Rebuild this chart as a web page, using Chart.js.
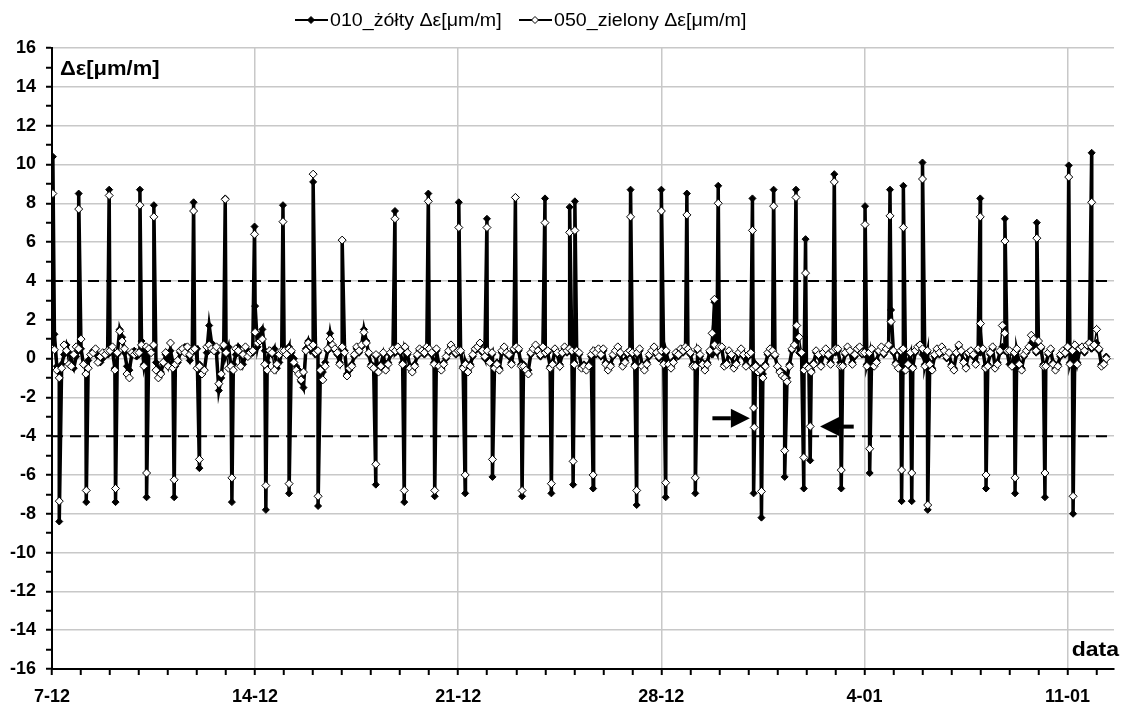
<!DOCTYPE html>
<html><head><meta charset="utf-8">
<script src="https://cdn.jsdelivr.net/npm/chart.js@4.4.0/dist/chart.umd.min.js"></script>
<style>html,body{margin:0;padding:0;background:#fff;}canvas{display:block;}</style>
</head><body>
<canvas id="c" width="1125" height="707"></canvas>
<script>
// ---------- DATA ----------
const seriesNames = ['010_żółty Δε[μm/m]', '050_zielony Δε[μm/m]'];
const sampleStepDays = 1 / 12;   // regular readings every 2 h, day 0 = 7-12
// regular (baseline) readings, one row per day
const zoltyBase = [
 0.9, 1.25, -0.4, -0.6, -0.3, 0.2, 0.7, 0.3, -0.2, -0.5, 0.1, 0.4,
 0.5, -0.3, -0.4, -0.1, 0.2, 0.4, 0.3, 0.1, -0.2, 0.0, 0.3, 0.2,
 0.3, 0.4, -0.5, 0.2, 1.5, 1.1, 0.3, -0.4, -0.6, 0.2, 0.4, 0.1,
 0.2, 0.9, -0.3, 0.5, 0.3, 0.4, 0.6, -0.2, -0.5, -0.7, -0.3, 0.2,
 -0.3, 0.4, -0.2, -0.4, -0.2, 0.3, 0.5, 0.6, 0.2, -0.1, 0.3, 0.4,
 0.5, -0.3, -0.5, -0.6, 0.3, 1.7, 0.8, 0.4, 0.3, -1.65, -1.0, 0.5,
 0.2, 0.6, -0.4, -0.3, 0.2, 0.6, 0.3, -0.3, 0.1, 0.4, 0.2, 0.3,
 2.7, 0.6, 1.2, 1.5, 0.4, -0.2, 0.4, 0.2, 0.5, -0.5, -0.2, 0.3,
 0.5, 0.3, 0.6, 0.3, 0.0, -0.4, -0.6, -1.2, -1.5, 0.5, 0.9, 0.4,
 0.6, 0.2, 0.3, -0.5, -0.7, -0.2, 0.4, 1.3, 0.6, 0.4, 0.2, -0.2,
 0.5, 0.4, -0.8, -0.6, -0.3, 0.1, 0.5, 0.3, 0.6, 1.5, 0.9, 0.2,
 -0.3, -0.4, 0.1, -0.6, -0.3, 0.2, -0.5, -0.2, 0.2, 0.4, 0.3, 0.5,
 0.3, -0.2, 0.5, 0.2, -0.4, -0.6, -0.3, 0.1, 0.4, 0.3, 0.2, 0.5,
 0.4, 0.2, -0.2, 0.4, -0.3, -0.5, -0.2, 0.0, 0.3, 0.6, 0.4, 0.2,
 0.3, 0.3, -0.4, -0.2, -0.6, -0.3, 0.1, 0.4, 0.5, 0.7, 0.3, 0.0,
 0.3, -0.1, 0.2, -0.4, -0.2, -0.5, 0.3, 0.5, 0.2, 0.1, -0.2, 0.4,
 0.5, 0.4, -0.3, -0.3, -0.5, -0.6, 0.2, 0.4, 0.6, 0.3, 0.1, 0.5,
 0.2, 0.3, -0.4, -0.2, 0.4, 0.2, -0.3, 0.2, 0.5, 0.3, 0.4, 0.3,
 -0.2, 0.3, 0.2, -0.4, -0.3, -0.5, -0.3, 0.1, 0.3, 0.2, 0.4, 0.1,
 0.4, -0.2, -0.5, -0.3, 0.1, 0.3, 0.5, 0.2, -0.3, -0.1, 0.2, 0.3,
 0.2, -0.3, 0.2, 0.4, -0.3, -0.5, -0.2, 0.1, 0.3, 0.5, 0.2, 0.0,
 0.3, -0.2, 0.3, -0.2, -0.4, -0.1, 0.2, 0.1, 0.4, 0.3, 0.5, 0.4,
 0.2, -0.3, -0.3, 0.4, 0.1, -0.2, -0.5, -0.2, 0.3, 0.2, 0.6, 0.3,
 0.5, 0.5, -0.3, -0.2, 0.3, 0.1, -0.4, -0.2, 0.2, 0.4, 0.1, -0.3,
 0.1, 0.2, -0.4, -0.3, -0.6, -0.5, -0.8, -0.3, 0.2, 0.4, 0.3, 0.1,
 -0.4, -0.6, -0.7, -0.8, -1.0, -0.3, 0.4, 0.6, 0.9, 0.3, 0.2, -0.5,
 -0.3, -0.4, -0.6, -0.2, 0.3, 0.1, -0.3, 0.2, 0.4, 0.1, -0.2, 0.3,
 0.3, 0.4, -0.2, -0.3, 0.2, 0.5, 0.3, -0.2, 0.1, 0.4, 0.5, 0.2,
 0.2, -0.3, 0.2, 0.4, -0.3, -0.1, 0.3, 0.5, 0.2, 0.4, 0.6, 2.5,
 0.3, -0.2, -0.4, 0.3, 0.4, -0.5, -0.2, 0.2, -0.4, 0.3, 0.5, 0.6,
 0.2, -0.3, 0.3, -0.2, -0.5, 0.1, 0.4, 0.2, 0.5, 0.3, 0.0, 0.2,
 -0.3, -0.5, 0.2, 0.6, 0.3, -0.1, -0.4, 0.2, 0.3, 0.1, -0.2, 0.4,
 0.3, 0.4, -0.4, -0.3, 0.2, 0.5, -0.4, -0.2, 0.3, 0.6, 0.4, 0.3,
 -0.3, -0.3, 0.2, 0.4, -0.2, -0.5, 0.1, 0.3, 0.5, 0.8, 0.6, 0.3,
 0.4, 0.5, -0.3, -0.3, 0.2, 0.4, -0.2, -0.5, -0.3, 0.1, 0.3, 0.2,
 0.5, -0.2, 0.3, 0.6, -0.2, 0.4, 0.5, 0.3, 0.6, 0.7, 0.5, 0.6,
 0.8, 0.4, -0.3, -0.2, 0.1
];
const zielonyBase = [
 0.5, 0.45, -0.6, -1.0, -0.5, 0.7, 0.4, -0.3, -0.4, 0.2, 0.6, 0.5,
 1.0, -0.3, -0.8, -0.5, 0.2, 0.3, 0.5, -0.2, 0.1, 0.3, 0.2, 0.4,
 0.4, 0.6, -0.6, 0.3, 1.4, 0.9, 0.5, -0.8, -1.0, 0.3, 0.2, 0.3,
 0.3, 0.7, -0.4, 0.6, 0.5, 0.3, 0.7, -0.6, -1.0, -0.8, -0.2, 0.3,
 -0.4, 0.8, -0.5, -0.3, -0.1, 0.4, 0.5, 0.3, 0.6, 0.2, 0.4, 0.5,
 -0.5, -0.4, -0.8, -0.6, 0.6, 0.7, 0.5, 0.4, 0.6, -1.3, -0.8, 0.7,
 0.3, -0.5, -0.4, -0.6, 0.5, 0.4, -0.4, 0.2, 0.6, 0.1, 0.3, 0.4,
 1.35, 0.8, 0.9, 1.0, -0.3, -0.6, 0.4, 0.3, -0.6, -0.3, 0.2, 0.4,
 0.4, 0.2, 0.5, 0.4, -0.2, -0.6, -0.8, -1.1, -0.7, 0.4, 0.8, 0.6,
 0.7, 0.3, 0.4, -0.6, -1.1, -0.4, 0.5, 1.0, 0.7, 0.5, 0.3, -0.3,
 0.6, 0.3, -0.9, -0.5, -0.4, 0.2, 0.6, 0.4, 0.7, 1.35, 0.8, 0.3,
 -0.4, -0.5, 0.2, -0.7, -0.4, 0.3, -0.6, -0.3, 0.3, 0.5, 0.4, 0.6,
 0.4, -0.3, 0.6, 0.3, -0.5, -0.7, -0.4, 0.2, 0.5, 0.4, 0.3, 0.6,
 0.5, 0.3, -0.3, 0.5, -0.4, -0.6, -0.3, 0.1, 0.4, 0.7, 0.5, 0.3,
 0.4, 0.4, -0.5, -0.3, -0.7, -0.4, 0.2, 0.5, 0.6, 0.8, 0.4, 0.1,
 0.4, -0.2, 0.3, -0.5, -0.3, -0.6, 0.4, 0.6, 0.3, 0.2, -0.3, 0.5,
 0.6, 0.5, -0.4, -0.4, -0.6, -0.8, 0.3, 0.5, 0.7, 0.4, 0.2, 0.6,
 0.3, 0.4, -0.5, -0.3, 0.5, 0.3, -0.4, 0.3, 0.6, 0.4, 0.5, 0.4,
 -0.3, 0.4, 0.3, -0.5, -0.4, -0.6, -0.4, 0.2, 0.4, 0.3, 0.5, 0.2,
 0.5, -0.3, -0.6, -0.4, 0.2, 0.4, 0.6, 0.3, -0.4, -0.2, 0.3, 0.4,
 0.3, -0.4, 0.3, 0.5, -0.4, -0.6, -0.3, 0.2, 0.4, 0.6, 0.3, 0.1,
 0.4, -0.3, 0.4, -0.3, -0.5, -0.2, 0.3, 0.2, 0.5, 0.4, 0.6, 0.5,
 0.3, -0.4, -0.4, 0.5, 0.2, -0.3, -0.6, -0.3, 0.4, 1.3, 0.7, 0.4,
 0.6, 0.6, -0.4, -0.3, 0.4, 0.2, -0.5, -0.3, 0.3, 0.5, 0.2, -0.4,
 0.2, 0.3, -0.5, -0.4, -0.7, -0.6, -1.0, -0.4, 0.3, 0.5, 0.4, 0.2,
 -0.4, -0.7, -0.9, -1.0, -1.2, -0.4, 0.5, 0.7, 1.7, 1.1, 0.3, -0.6,
 -0.4, -0.5, -0.7, -0.3, 0.4, 0.2, -0.4, 0.3, 0.5, 0.2, -0.3, 0.4,
 0.5, 0.5, -0.4, -0.4, 0.3, 0.6, 0.4, -0.3, 0.2, 0.5, 0.6, 0.3,
 0.3, -0.4, 0.3, 0.5, -0.4, -0.2, 0.4, 0.6, 0.3, 0.5, 0.7, 1.9,
 0.4, -0.3, -0.5, 0.4, 0.5, -0.6, -0.3, 0.3, -0.5, 0.4, 0.6, 0.7,
 0.5, -0.4, 0.4, -0.3, -0.6, 0.2, 0.5, 0.3, 0.6, 0.4, 0.1, 0.3,
 -0.4, -0.6, 0.3, 0.7, 0.4, -0.2, -0.5, 0.3, 0.4, 0.2, -0.3, 0.5,
 1.8, 0.5, -0.5, -0.4, 0.3, 0.6, -0.5, -0.3, 0.4, 1.7, 1.3, 0.4,
 0.4, -0.4, 0.3, 0.5, -0.3, -0.6, 0.2, 0.4, 0.6, 1.2, 1.0, 0.4,
 0.9, 0.6, -0.4, -0.4, 0.3, 0.5, -0.3, -0.6, -0.4, 0.2, 0.4, 0.3,
 0.6, -0.3, 0.4, 0.7, -0.3, 0.5, 0.6, 0.4, 0.7, 0.8, 0.6, 0.7,
 1.5, 0.5, -0.4, -0.3, 0.0
];
// short spike readings: [day, value]
const zoltySpikes = [
 [0.03,10.4],[0.25,-8.4],[0.92,8.5],[1.18,-7.4],[1.97,8.7],[2.19,-7.4],[3.03,8.7],[3.26,-7.15],
 [3.51,7.9],[4.21,-7.15],[4.88,8.05],[5.08,-5.65],[5.97,8.25],[6.2,-7.4],[6.98,6.8],[7.37,-7.8],
 [7.96,7.9],[8.17,-6.95],[9.0,9.1],[9.17,-7.6],[10.0,6.1],[11.16,-6.5],[11.82,7.6],[12.14,-7.4],
 [12.97,8.5],[13.19,-7.1],[14.02,8.05],[14.24,-6.95],[14.99,7.2],[15.18,-6.1],[15.97,8.3],[16.2,-7.1],
 [16.99,8.25],[17.21,-6.95],[17.84,7.8],[17.96,-6.5],[18.02,8.1],[18.65,-6.7],[19.94,8.7],[20.15,-7.55],
 [21.0,8.7],[21.15,-7.15],[21.88,8.5],[22.17,-6.95],[22.83,2.9],[22.96,8.9],[24.14,8.25],[24.18,-6.95],
 [24.45,-8.2],[24.87,8.7],[25.25,-6.1],[25.64,8.7],[25.91,-6.7],[25.97,6.15],[26.13,-5.25],[26.96,9.5],
 [27.2,-6.7],[28.02,7.85],[28.18,-5.9],[28.88,8.7],[29.28,-7.35],[29.34,8.9],[29.63,-7.35],[30.0,10.1],
 [30.18,-7.8],[31.99,8.25],[32.19,-6.7],[32.84,7.2],[33.19,-6.95],[33.94,7.0],[34.22,-7.15],[35.04,9.95],
 [35.19,-8.0],[35.83,10.6]
];
const zielonySpikes = [
 [0.03,8.5],[0.25,-7.35],[0.92,7.7],[1.18,-6.8],[1.97,8.4],[2.19,-6.7],[3.03,7.9],[3.26,-5.9],
 [3.51,7.3],[4.21,-6.25],[4.88,7.6],[5.08,-5.2],[5.97,8.2],[6.2,-6.15],[6.98,6.4],[7.37,-6.55],
 [7.96,7.05],[8.17,-6.45],[9.0,9.5],[9.17,-7.1],[10.0,6.1],[11.16,-5.45],[11.82,7.2],[12.14,-6.8],
 [12.97,8.1],[13.19,-6.8],[14.02,6.75],[14.24,-6.0],[14.99,6.75],[15.18,-5.2],[15.97,8.3],[16.2,-6.8],
 [16.99,7.0],[17.21,-6.45],[17.84,6.5],[17.96,-5.3],[18.02,6.6],[18.65,-6.0],[19.94,7.3],[20.15,-6.8],
 [21.0,7.6],[21.15,-6.4],[21.88,7.4],[22.17,-6.15],[22.83,3.05],[22.96,8.0],[24.14,6.6],[24.18,-2.55],
 [24.2,-3.55],[24.45,-6.85],[24.87,7.85],[25.25,-4.75],[25.64,8.3],[25.91,-5.1],[25.97,4.4],[26.13,-3.5],
 [26.96,9.1],[27.2,-5.75],[28.02,6.9],[28.18,-4.65],[28.88,7.35],[29.28,-5.75],[29.34,6.75],[29.63,-5.9],
 [30.0,9.25],[30.18,-7.55],[31.99,7.3],[32.19,-6.0],[32.84,6.05],[33.19,-6.15],[33.94,6.2],[34.22,-5.9],
 [35.04,9.35],[35.19,-7.1],[35.83,8.05]
];
const weekTickLabels = ['7-12', '14-12', '21-12', '28-12', '4-01', '11-01'];
const thresholds = [4, -4];
const xRange = [0, 36.6];
const yRange = [-16, 16];
const arrowMarks = [
  {from: [22.76, -3.08], to: [24.05, -3.08]},
  {from: [27.63, -3.51], to: [26.47, -3.51]}
];
const yAxisTitle = 'Δε[μm/m]';
const xAxisTitle = 'data';

// ---------- BUILD ----------
const FONT = '"Liberation Sans", Arial, sans-serif';
function buildSeries(base, spikes) {
  const pts = base.map((v, k) => ({x: k * sampleStepDays, y: v}));
  spikes.forEach(([d, v]) => pts.push({x: d, y: v}));
  pts.sort((a, b) => a.x - b.x);
  return pts;
}

const datasets = [
  {
    label: seriesNames[1], data: buildSeries(zielonyBase, zielonySpikes), order: 0,
    borderColor: '#000', borderWidth: 1.5, tension: 0,
    pointStyle: 'rectRot', pointRadius: 4, pointBackgroundColor: '#fff',
    pointBorderColor: '#000', pointBorderWidth: 1
  },
  {
    label: seriesNames[0], data: buildSeries(zoltyBase, zoltySpikes), order: 1,
    borderColor: '#000', borderWidth: 3.5, tension: 0,
    pointStyle: 'rectRot', pointRadius: 3.5, pointBackgroundColor: '#000',
    pointBorderColor: '#000', pointBorderWidth: 1
  }
];
thresholds.forEach(t => datasets.push({
  label: 'thr' + t, data: [{x: xRange[0], y: t}, {x: xRange[1], y: t}], order: 2,
  borderColor: '#000', borderWidth: 2, borderDash: [11, 7], pointRadius: 0, tension: 0
}));

function drawMarker(ctx, x, y, fill, r) {
  ctx.beginPath();
  ctx.moveTo(x, y - r); ctx.lineTo(x + r, y); ctx.lineTo(x, y + r); ctx.lineTo(x - r, y); ctx.closePath();
  ctx.fillStyle = fill; ctx.fill();
  ctx.lineWidth = 1; ctx.strokeStyle = '#000'; ctx.stroke();
}
function stretchedText(ctx, text, x, y, sx, align) {
  const w = ctx.measureText(text).width * sx;
  const left = align === 'right' ? x - w : x;
  ctx.save();
  ctx.translate(left, y); ctx.scale(sx, 1);
  ctx.textAlign = 'left';
  ctx.fillText(text, 0, 0);
  ctx.restore();
  return w;
}

const overlay = {
  id: 'overlay',
  afterDraw(chart) {
    const {ctx, chartArea, scales} = chart;
    ctx.save();
    // arrows
    arrowMarks.forEach(a => {
      const x0 = scales.x.getPixelForValue(a.from[0]), y0 = scales.y.getPixelForValue(a.from[1]);
      const x1 = scales.x.getPixelForValue(a.to[0]), y1 = scales.y.getPixelForValue(a.to[1]);
      const dir = Math.sign(x1 - x0);
      const head = 19, hh = 9.5;
      ctx.strokeStyle = '#000'; ctx.lineWidth = 4; ctx.lineCap = 'butt';
      ctx.beginPath(); ctx.moveTo(x0, y0); ctx.lineTo(x1 - dir * head, y1); ctx.stroke();
      ctx.fillStyle = '#000';
      ctx.beginPath(); ctx.moveTo(x1, y1); ctx.lineTo(x1 - dir * head, y1 - hh); ctx.lineTo(x1 - dir * head, y1 + hh); ctx.closePath(); ctx.fill();
    });
    // axis titles
    ctx.fillStyle = '#000';
    ctx.textBaseline = 'middle';
    ctx.font = 'bold 20px ' + FONT;
    stretchedText(ctx, yAxisTitle, chartArea.left + 8, chartArea.top + 21, 1.1, 'left');
    stretchedText(ctx, xAxisTitle, chartArea.right + 5, chartArea.bottom - 19, 1.15, 'right');
    // legend
    ctx.font = '18px ' + FONT;
    const ly = 20;
    const items = [[seriesNames[0], '#000', 295], [seriesNames[1], '#fff', 519]];
    items.forEach(([name, fill, lx]) => {
      ctx.strokeStyle = '#000'; ctx.lineWidth = 2;
      ctx.beginPath(); ctx.moveTo(lx, ly); ctx.lineTo(lx + 33, ly); ctx.stroke();
      drawMarker(ctx, lx + 16, ly, fill, 3.5);
      ctx.fillStyle = '#000';
      stretchedText(ctx, name, lx + 35, ly + 1, 1.09, 'left');
    });
    ctx.restore();
  }
};

new Chart(document.getElementById('c'), {
  type: 'line',
  data: {datasets},
  plugins: [overlay],
  options: {
    responsive: false, animation: false, devicePixelRatio: 1,
    layout: {padding: {top: 48, right: 11, bottom: 0, left: 0}},
    plugins: {legend: {display: false}, tooltip: {enabled: false}},
    elements: {line: {borderJoinStyle: 'miter'}},
    scales: {
      x: {
        type: 'linear', min: xRange[0], max: xRange[1],
        afterFit: s => { s.height = 38; },
        border: {display: true, color: '#000', width: 2},
        grid: {
          color: c => (Math.round(c.tick.value) % 7 === 0 && Math.abs(c.tick.value - Math.round(c.tick.value)) < 1e-6) ? '#c8c8c8' : 'rgba(0,0,0,0)',
          tickColor: '#000', tickLength: 6, lineWidth: 1.5, tickWidth: 2
        },
        ticks: {
          stepSize: 1, autoSkip: false, maxRotation: 0, includeBounds: false, padding: 11,
          color: '#000', font: {family: FONT, size: 18, weight: 'bold'},
          callback: v => { const r = Math.round(v); return (r % 7 === 0 && weekTickLabels[r / 7]) ? weekTickLabels[r / 7] : ''; }
        }
      },
      y: {
        type: 'linear', min: yRange[0], max: yRange[1],
        afterFit: s => { s.width = 52; },
        border: {display: true, color: '#000', width: 2},
        grid: {
          color: c => (Math.round(c.tick.value) % 2 === 0) ? '#c8c8c8' : 'rgba(0,0,0,0)',
          tickColor: '#000', tickLength: 6, lineWidth: 1.5, tickWidth: 2
        },
        ticks: {
          stepSize: 1, autoSkip: false, padding: 10,
          color: '#000', font: {family: FONT, size: 18, weight: 'bold'},
          callback: v => (Math.round(v) % 2 === 0 ? String(Math.round(v)) : '')
        }
      }
    }
  }
});
</script>
</body></html>
